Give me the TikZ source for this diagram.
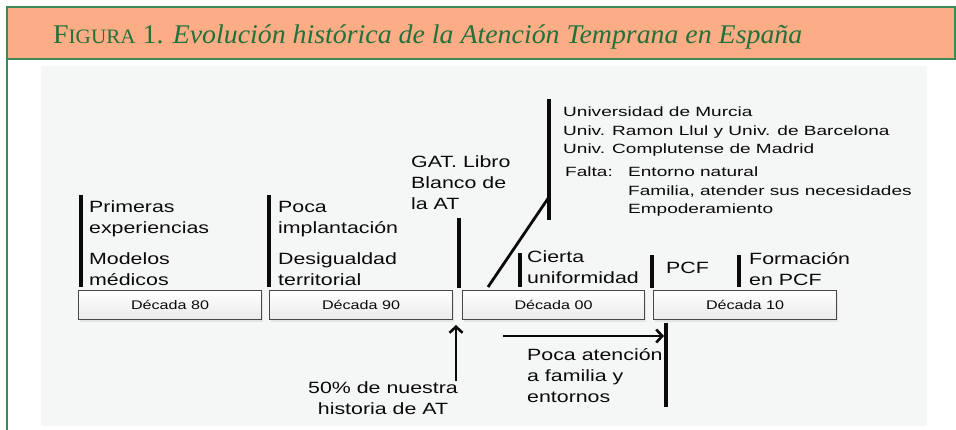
\documentclass[tikz,border=0pt]{standalone}
\usepackage{fontspec}
\setmainfont{Liberation Sans}
\newfontfamily\hdrfont{Liberation Serif}
\usetikzlibrary{arrows.meta,shadows}
\definecolor{hdrorange}{HTML}{FDAD85}
\definecolor{hdrgreen}{HTML}{3C8A55}
\definecolor{hdrtext}{HTML}{22703A}
\definecolor{panelgray}{HTML}{F5F7F6}
\definecolor{ink}{HTML}{0A0A0A}
\newcommand\mainlines[1]{\scalebox{1.31}[1]{\begin{tabular}[t]{@{}l@{}}#1\end{tabular}}}
\newcommand\midlines[1]{\scalebox{1.31}[1]{\begin{tabular}[t]{@{}c@{}}#1\end{tabular}}}
\newcommand\smalllines[1]{\scalebox{1.42}[1]{\begin{tabular}[t]{@{}l@{}}#1\end{tabular}}}
\newcommand\decstretch[1]{\scalebox{1.29}[1]{#1}}
\begin{document}
\begin{tikzpicture}[x=1pt,y=-1pt,
  maintxt/.style={font=\fontsize{16.3}{21}\selectfont, text=ink, anchor=base west, inner sep=0pt},
  midtxt/.style={font=\fontsize{16.3}{21}\selectfont, text=ink, anchor=base, inner sep=0pt},
  smalltxt/.style={font=\fontsize{13.4}{18.5}\selectfont, text=ink, anchor=base west, inner sep=0pt},
  decbox/.style={draw=black!72, line width=1pt, top color=white, bottom color=black!8,
     minimum height=29pt, anchor=north west, inner sep=0pt, text=ink,
     font=\fontsize{12.5}{14}\selectfont,
     drop shadow={opacity=0.15, shadow xshift=1pt, shadow yshift=-3pt}},
  bar/.style={line width=3.2pt, ink},
  arr/.style={line width=2.8pt, ink, -{Straight Barb[length=6pt,width=13pt,line width=2.6pt]}}]
\useasboundingbox (0,0) rectangle (956,430);
% header band
\fill[hdrorange] (7,7) rectangle (955,59);
\draw[hdrgreen, line width=1.3pt] (7,430) -- (7,7) -- (955,7) -- (955,59) -- (7,59);
\node[anchor=base west, inner sep=0pt, text=hdrtext] (title) at (53,44)
  {\resizebox{749pt}{\height}{\hdrfont\fontsize{27}{32}\selectfont F{\fontsize{20.5}{24}\selectfont IGURA} 1. \itshape Evolución histórica de la Atención Temprana en España}};
% panel
\fill[panelgray] (41,66) rectangle (927,426);
% decade boxes
\node[decbox, minimum width=183pt] (d80) at (78,290) {\decstretch{Década 80}};
\node[decbox, minimum width=183pt] (d90) at (269,290) {\decstretch{Década 90}};
\node[decbox, minimum width=182pt] (d00) at (462,290) {\decstretch{Década 00}};
\node[decbox, minimum width=183pt] (d10) at (653,290) {\decstretch{Década 10}};
% texts
\node[maintxt] (prim) at (89,213) {\mainlines{Primeras\\experiencias}};
\node[maintxt] (mode) at (89,265) {\mainlines{Modelos\\médicos}};
\node[maintxt] (poca) at (278,213) {\mainlines{Poca\\implantación}};
\node[maintxt] (desi) at (278,265) {\mainlines{Desigualdad\\territorial}};
\node[maintxt] (gat) at (411,168) {\mainlines{GAT. Libro\\Blanco de\\la AT}};
\node[smalltxt] (univ) at (563,117) {\smalllines{Universidad de Murcia\\Univ. Ramon Llul y Univ. de Barcelona\\Univ. Complutense de Madrid}};
\node[smalltxt] (falta) at (565,177) {\smalllines{Falta:}};
\node[smalltxt] (faltas) at (628,177) {\smalllines{Entorno natural\\Familia, atender sus necesidades\\Empoderamiento}};
\node[maintxt] (cier) at (527,263) {\mainlines{Cierta\\uniformidad}};
\node[maintxt] (pcf) at (666,274) {\mainlines{PCF}};
\node[maintxt] (form) at (749,265) {\mainlines{Formación\\en PCF}};
\node[maintxt] (pocaat) at (527,360) {\mainlines{Poca atención\\a familia y\\entornos}};
\node[midtxt] (cincuenta) at (383,393) {\midlines{50\% de nuestra\\historia de AT}};
% bar end points
\coordinate (b1t) at (81,195);  \coordinate (b1b) at (81,287);
\coordinate (b2t) at (269,195); \coordinate (b2b) at (269,287);
\coordinate (b3t) at (459,218); \coordinate (b3b) at (459,288);
\coordinate (dgs) at (488,287); \coordinate (dge) at (549,197);
\coordinate (b4t) at (549,99);  \coordinate (b4b) at (549,220);
\coordinate (b5t) at (520,253); \coordinate (b5b) at (520,287);
\coordinate (b6t) at (652,255); \coordinate (b6b) at (652,288);
\coordinate (b7t) at (739,255); \coordinate (b7b) at (739,287);
\coordinate (b8t) at (666,323); \coordinate (b8b) at (666,407);
\coordinate (ars) at (503,336); \coordinate (are) at (664,336);
\coordinate (ups) at (456,381); \coordinate (upe) at (456,325);
\draw[bar] (b1t) -- (b1b);
\draw[bar] (b2t) -- (b2b);
\draw[bar] (b3t) -- (b3b);
\draw[line width=2.8pt, ink] (dgs) -- (dge);
\draw[bar] (b4t) -- (b4b);
\draw[bar] (b5t) -- (b5b);
\draw[bar] (b6t) -- (b6b);
\draw[bar] (b7t) -- (b7b);
\draw[bar] (b8t) -- (b8b);
\draw[arr] (ars) -- (are);
\draw[arr] (ups) -- (upe);
\end{tikzpicture}
\end{document}
